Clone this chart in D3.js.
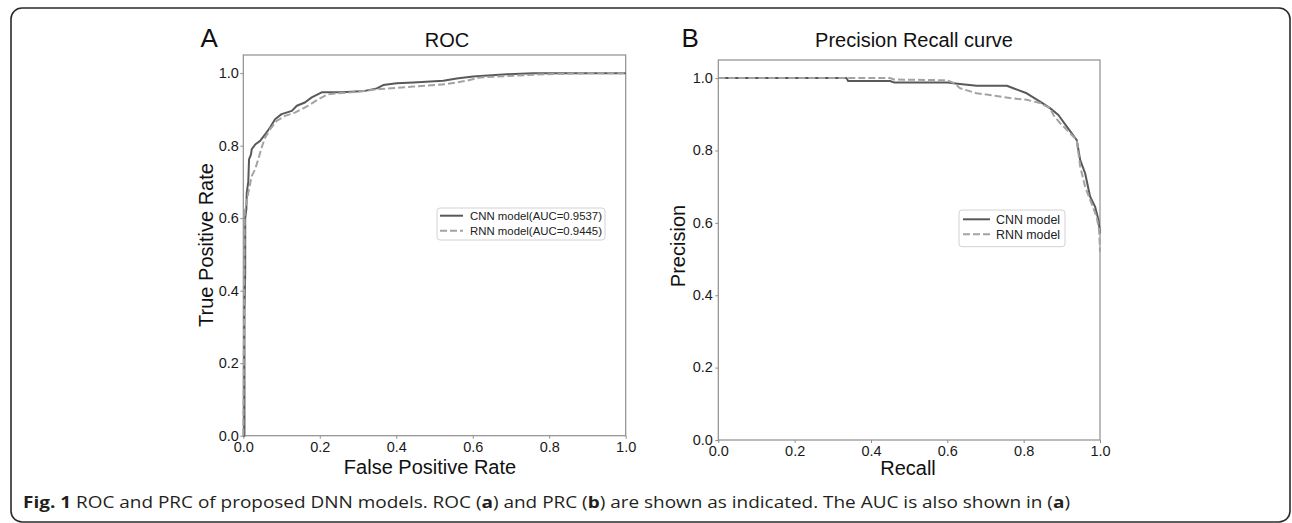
<!DOCTYPE html>
<html>
<head>
<meta charset="utf-8">
<script src="https://cdn.jsdelivr.net/npm/d3@7"></script>
<style>
  html, body { margin: 0; padding: 0; background: #fff; }
  svg { display: block; }
  text { font-family: "Liberation Sans", Arial, sans-serif; }
</style>
</head>
<body>
<svg id="chart" width="1292" height="523"></svg>
<script>
// ---------- data ----------
const tickValues = [0, 0.2, 0.4, 0.6, 0.8, 1.0];

// ROC curves: [false positive rate, true positive rate]
const rocCNN = [[0,0],[0.003,0.0],[0.003,0.34],[0.005,0.45],[0.005,0.6],[0.008,0.625],[0.009,0.67],[0.013,0.70],[0.015,0.762],[0.02,0.775],[0.022,0.79],[0.031,0.803],[0.044,0.813],[0.057,0.831],[0.07,0.85],[0.083,0.873],[0.1,0.887],[0.127,0.896],[0.14,0.91],[0.161,0.919],[0.179,0.933],[0.205,0.947],[0.257,0.947],[0.318,0.951],[0.349,0.958],[0.366,0.967],[0.401,0.972],[0.445,0.974],[0.523,0.979],[0.558,0.985],[0.601,0.991],[0.689,0.997],[0.758,1.0],[1,1]];
const rocRNN = [[0,0],[0.002,0.3],[0.003,0.5],[0.004,0.62],[0.008,0.64],[0.013,0.67],[0.022,0.716],[0.031,0.735],[0.039,0.762],[0.048,0.795],[0.057,0.822],[0.07,0.845],[0.087,0.868],[0.109,0.882],[0.135,0.891],[0.17,0.91],[0.196,0.928],[0.222,0.942],[0.283,0.947],[0.357,0.956],[0.445,0.963],[0.532,0.97],[0.584,0.979],[0.619,0.988],[0.706,0.993],[0.793,0.997],[0.924,1.0],[1,1]];

// Precision-recall curves: [recall, precision]
const prCNN = [[0,1],[0.336,1],[0.34,0.992],[0.45,0.992],[0.46,0.988],[0.6,0.988],[0.633,0.984],[0.677,0.979],[0.756,0.979],[0.773,0.972],[0.808,0.958],[0.843,0.935],[0.869,0.917],[0.891,0.898],[0.913,0.866],[0.939,0.829],[0.948,0.774],[0.961,0.737],[0.974,0.673],[0.987,0.645],[0.996,0.608],[1.0,0.571]];
const prRNN = [[0,1],[0.45,1],[0.46,0.996],[0.6,0.994],[0.62,0.985],[0.633,0.972],[0.677,0.958],[0.72,0.952],[0.764,0.945],[0.808,0.94],[0.843,0.931],[0.869,0.917],[0.878,0.898],[0.895,0.876],[0.913,0.857],[0.939,0.829],[0.948,0.756],[0.961,0.70],[0.974,0.664],[0.991,0.617],[0.998,0.58],[1.0,0.52]];

const rocLegend = ["CNN model(AUC=0.9537)", "RNN model(AUC=0.9445)"];
const prLegend = ["CNN model", "RNN model"];

// ---------- drawing ----------
const svg = d3.select("#chart");
const spine = "#8e8e8e";
const cnnColor = "#595959";
const rnnColor = "#a3a3a3";
const dash = "7,3";

// outer rounded frame
svg.append("rect")
  .attr("x", 11).attr("y", 8).attr("width", 1279).attr("height", 514)
  .attr("rx", 11).attr("ry", 11)
  .attr("fill", "none").attr("stroke", "#2a2a2a").attr("stroke-width", 1.6);

function panel(o) {
  const x = d3.scaleLinear().domain([0, 1]).range([o.left, o.right]);
  const y = d3.scaleLinear().domain([0, 1.05]).range([o.bottom, o.top]);
  const g = svg.append("g");

  // axes
  const xa = g.append("g").attr("transform", `translate(0,${o.bottom})`)
    .call(d3.axisBottom(x).tickValues(tickValues).tickFormat(d3.format(".1f")).tickSize(3).tickPadding(3));
  const ya = g.append("g").attr("transform", `translate(${o.left},0)`)
    .call(d3.axisLeft(y).tickValues(tickValues).tickFormat(d3.format(".1f")).tickSize(3).tickPadding(o.ypad));
  [xa, ya].forEach(a => {
    a.select(".domain").remove();
    a.selectAll(".tick line").attr("stroke", spine);
    a.selectAll(".tick text").attr("fill", "#1a1a1a")
      .style("font-family", '"Liberation Sans", Arial, sans-serif').style("font-size", "14.5px");
  });
  ya.selectAll(".tick text").attr("dy", "0.3em");

  // frame
  g.append("rect")
    .attr("x", o.left).attr("y", o.top)
    .attr("width", o.right - o.left).attr("height", o.bottom - o.top)
    .attr("fill", "none").attr("stroke", spine).attr("stroke-width", 1.2);

  const line = d3.line().x(d => x(d[0])).y(d => y(d[1]));
  g.append("path").datum(o.cnn).attr("d", line)
    .attr("fill", "none").attr("stroke", cnnColor).attr("stroke-width", 2).attr("stroke-linejoin", "round");
  g.append("path").datum(o.rnn).attr("d", line)
    .attr("fill", "none").attr("stroke", rnnColor).attr("stroke-width", 2).attr("stroke-dasharray", dash);

  // legend
  const L = o.legend;
  g.append("rect").attr("x", L.x).attr("y", L.y).attr("width", L.w).attr("height", L.h)
    .attr("rx", 3).attr("fill", "#fff").attr("fill-opacity", 0.85)
    .attr("stroke", "#d2d2d2").attr("stroke-width", 1);
  o.legendLabels.forEach((lab, i) => {
    const ly = L.y + L.first + i * L.step;
    g.append("line").attr("x1", L.x + L.lx0).attr("x2", L.x + L.lx1).attr("y1", ly).attr("y2", ly)
      .attr("stroke", i === 0 ? cnnColor : rnnColor).attr("stroke-width", 2)
      .attr("stroke-dasharray", i === 0 ? null : dash);
    g.append("text").attr("x", L.x + L.tx).attr("y", ly).attr("dy", "0.36em")
      .attr("fill", "#222").style("font-size", L.fs + "px").text(lab);
  });

  // titles & labels
  g.append("text").attr("x", o.titleX).attr("y", 46.5).attr("text-anchor", "middle")
    .attr("fill", "#111").style("font-size", "20px").text(o.title);
  g.append("text").attr("x", o.letterX).attr("y", 46.5)
    .attr("fill", "#111").style("font-size", "26px").text(o.letter);
  g.append("text").attr("x", o.xlabX).attr("y", o.xlabY).attr("text-anchor", "middle")
    .attr("fill", "#111").style("font-size", "20px").text(o.xlab);
  g.append("text").attr("transform", `translate(${o.ylabX},${o.ylabY}) rotate(-90)`)
    .attr("text-anchor", "middle").attr("fill", "#111").style("font-size", "20px").text(o.ylab);
}

panel({
  left: 243.3, right: 625.7, top: 55, bottom: 435.7, ypad: 1.5,
  cnn: rocCNN, rnn: rocRNN,
  legend: { x: 437, y: 208, w: 168, h: 32, first: 7.7, step: 15, lx0: 3, lx1: 26, tx: 33, fs: 11.4 },
  legendLabels: rocLegend,
  title: "ROC", titleX: 447, letter: "A", letterX: 200.5,
  xlab: "False Positive Rate", xlabX: 430, xlabY: 474,
  ylab: "True Positive Rate", ylabX: 213, ylabY: 245
});

panel({
  left: 718.3, right: 1100, top: 60, bottom: 440, ypad: 2.5,
  cnn: prCNN, rnn: prRNN,
  legend: { x: 959, y: 210, w: 106, h: 36.7, first: 9.3, step: 15, lx0: 4, lx1: 31, tx: 37, fs: 12.4 },
  legendLabels: prLegend,
  title: "Precision Recall curve", titleX: 914, letter: "B", letterX: 681.5,
  xlab: "Recall", xlabX: 908, xlabY: 475,
  ylab: "Precision", ylabX: 685, ylabY: 246
});

// caption
const cap = svg.append("text").attr("x", 23).attr("y", 508.3)
  .attr("fill", "#231f20")
  .style("font-family", '"Open Sans", "Noto Sans", sans-serif').style("font-size", "16px");
const parts = [
  ["Fig. 1", true], [" ROC and PRC of proposed DNN models. ROC (", false], ["a", true],
  [") and PRC (", false], ["b", true], [") are shown as indicated. The AUC is also shown in (", false],
  ["a", true], [")", false]
];
parts.forEach(p => cap.append("tspan").style("font-weight", p[1] ? "bold" : "normal").text(p[0]));
const natural = cap.node().getComputedTextLength();
const target = 1047;
if (Math.abs(natural - target) > 2) {
  cap.attr("textLength", target).attr("lengthAdjust", "spacingAndGlyphs");
}
</script>
</body>
</html>
